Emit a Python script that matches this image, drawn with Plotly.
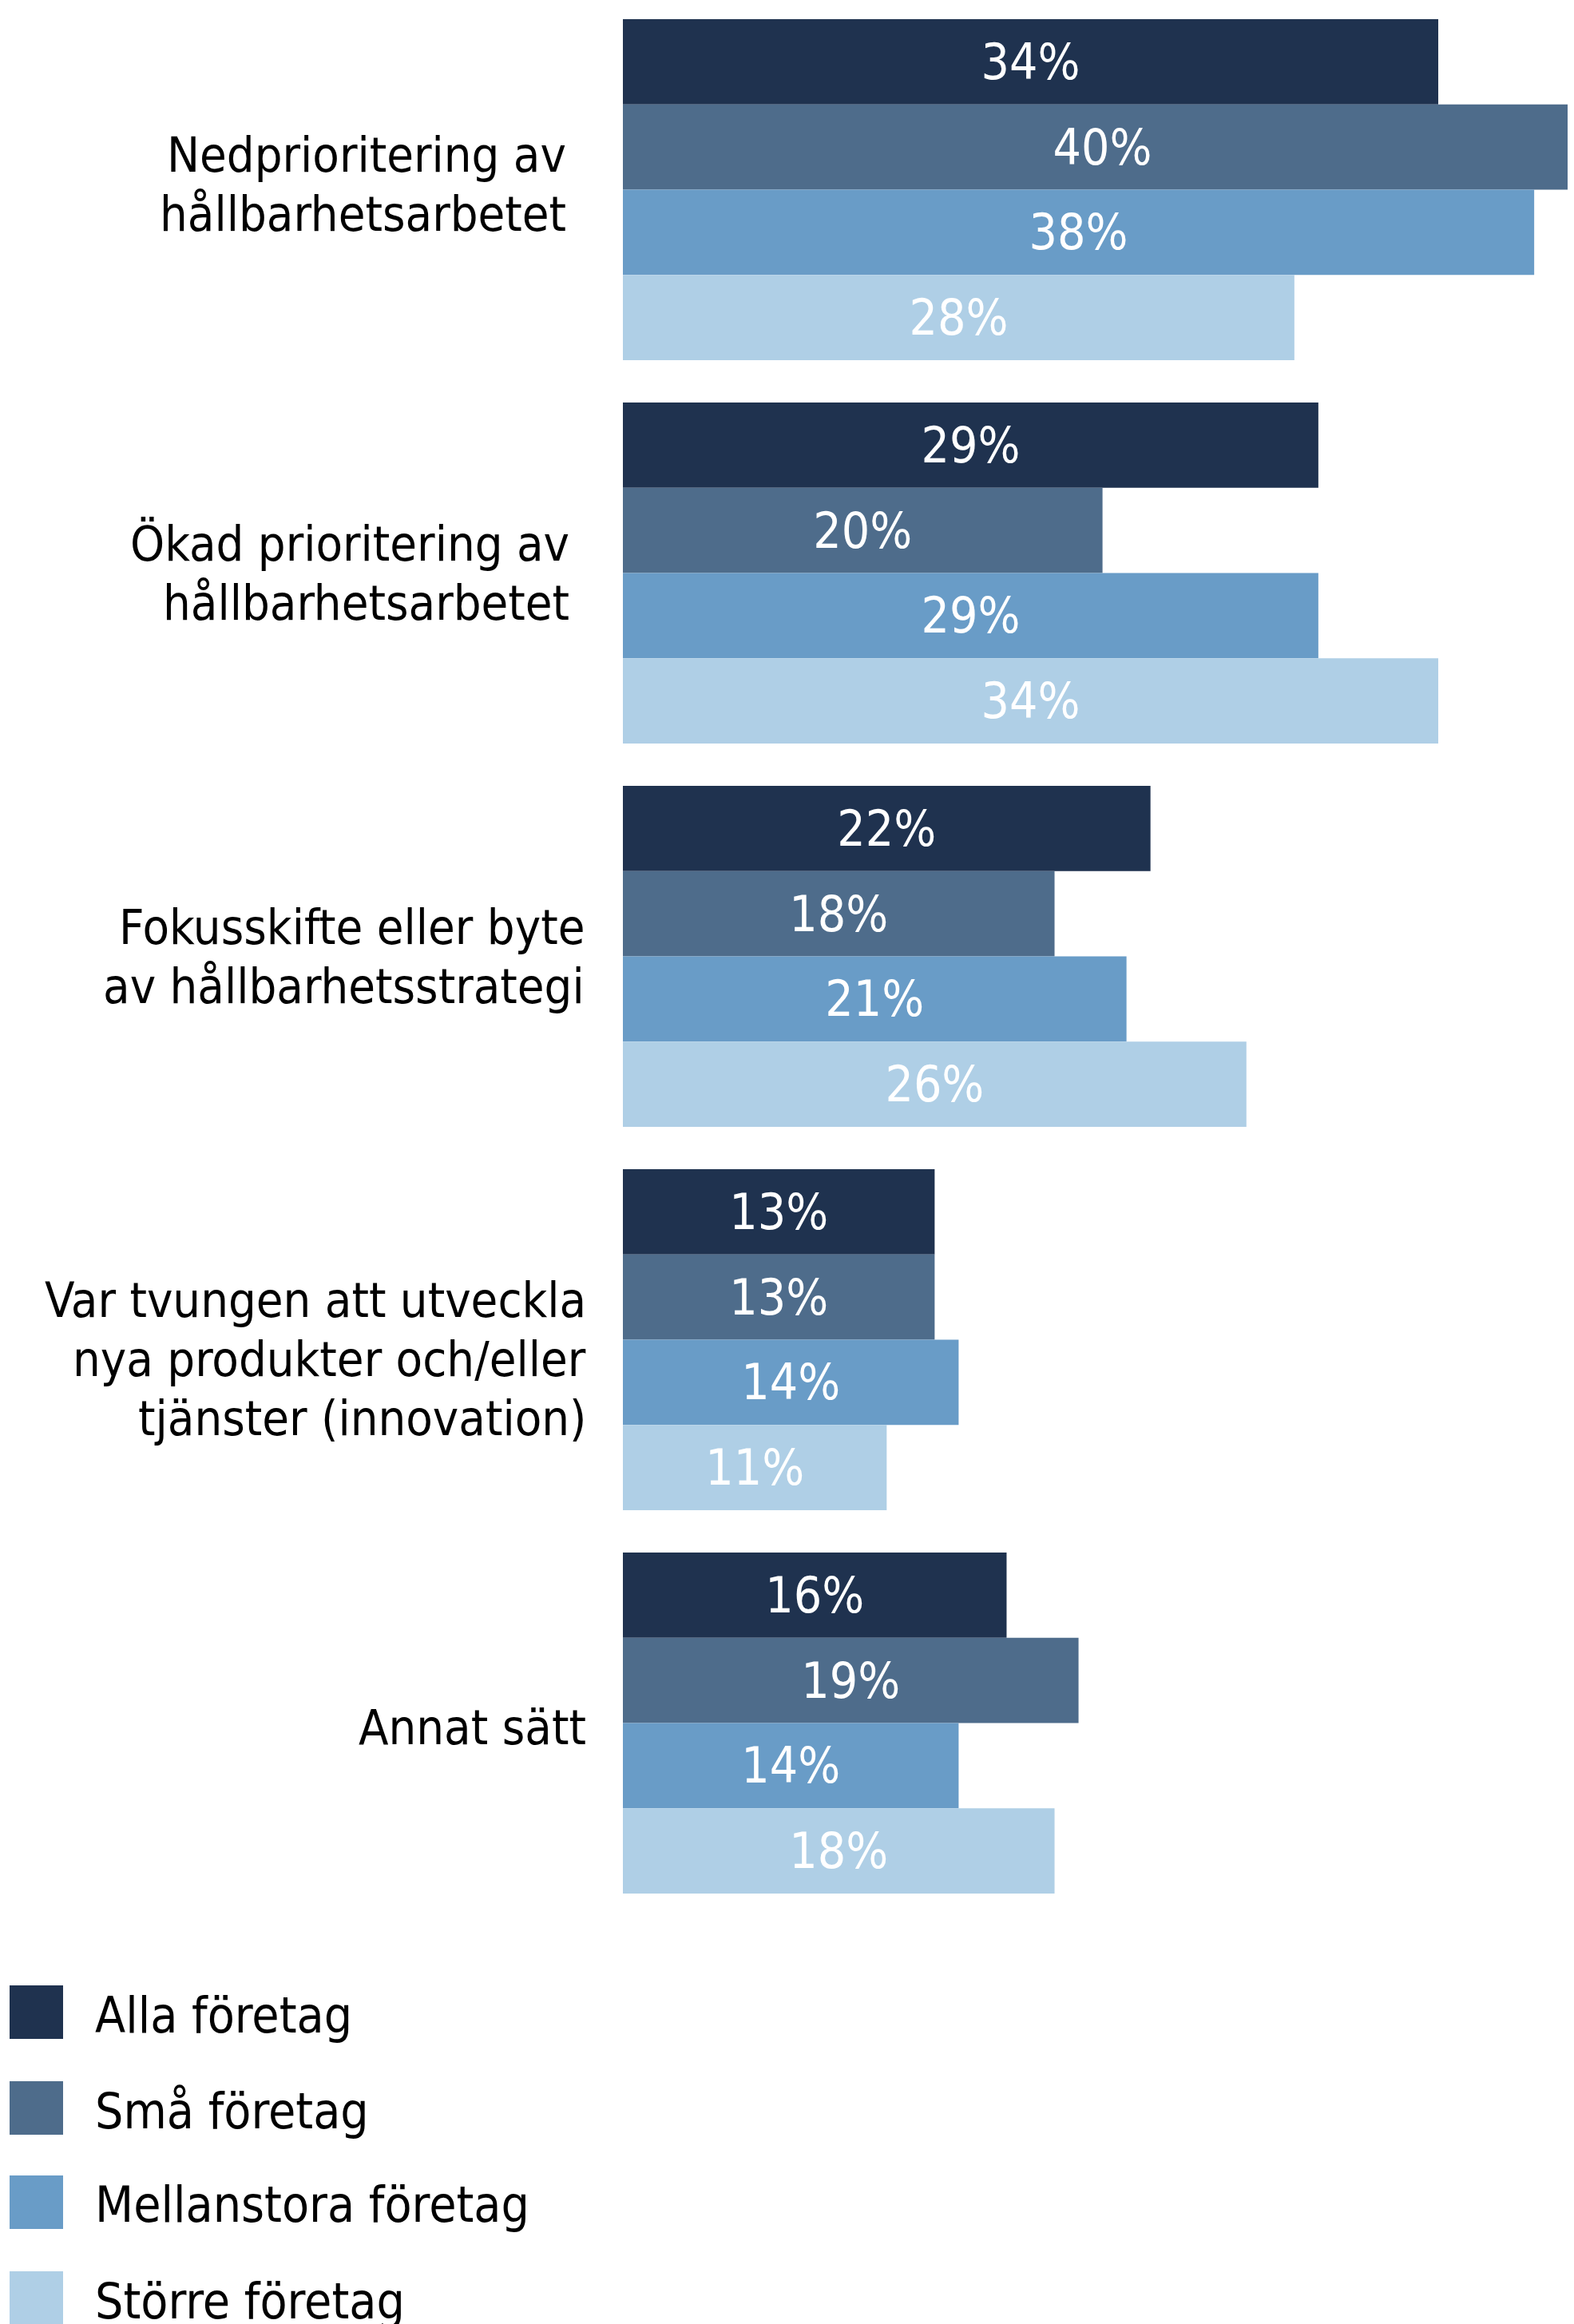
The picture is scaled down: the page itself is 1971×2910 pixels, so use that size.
import plotly.graph_objects as go

categories = [
    ["Nedprioritering av", "hållbarhetsarbetet"],
    ["Ökad prioritering av", "hållbarhetsarbetet"],
    ["Fokusskifte eller byte", "av hållbarhetsstrategi"],
    ["Var tvungen att utveckla", "nya produkter och/eller", "tjänster (innovation)"],
    ["Annat sätt"],
]
series_names = ["Alla företag", "Små företag", "Mellanstora företag", "Större företag"]
alla = [34, 29, 22, 13, 16]
sma = [40, 20, 18, 13, 19]
mellan = [38, 29, 21, 14, 14]
storre = [28, 34, 26, 11, 18]
colors = ["#1F324F", "#4E6C8B", "#699CC7", "#AFCFE6"]

OFF = 8  # default body margin of the html page
PAGE_W, PAGE_H = 1971, 2910
W, H = PAGE_W - OFF, PAGE_H - OFF
L = 780 - OFF
PLOT_H = 2400
UNIT = 480  # px per category
BARGAP = 0.1104
FONT = "'DejaVu Sans Condensed', 'Liberation Sans Narrow', Roboto, sans-serif"
FS = 62
FS_LABEL = 61
LINE = 74

top_val = -(1 - BARGAP) / 2 - (24 - OFF) / UNIT

fig = go.Figure()
for name, vals, col in zip(series_names, [alla, sma, mellan, storre], colors):
    fig.add_trace(go.Bar(
        y=list(range(len(categories))), x=vals, name=name, orientation="h",
        marker=dict(color=col, line=dict(width=0)),
        text=[f"{v}%" for v in vals], textposition="inside",
        insidetextanchor="middle", textangle=0,
        textfont=dict(color="white", size=FS, family=FONT),
        showlegend=False,
    ))

# category labels, one annotation per line
label_right = [711, 715, 734, 736, 736]
label_shift = [-7, 0, 0, 24, 5]
for i, (lines, rx, sh) in enumerate(zip(categories, label_right, label_shift)):
    n = len(lines)
    for j, line in enumerate(lines):
        dy = (j - (n - 1) / 2) * LINE + sh
        fig.add_annotation(
            x=0, xref="paper", y=i, yref="y",
            xshift=(rx - OFF) - L, yshift=-dy,
            xanchor="right", yanchor="middle", align="right",
            text=line, showarrow=False,
            font=dict(size=FS_LABEL, color="black", family=FONT),
        )

# manual legend (page pixel positions converted to paper coords)
def px_x(p):
    return (p - OFF - L) / (W - L)

def px_y(p):
    return 1 - (p - OFF) / PLOT_H

row_tops = [2486, 2606, 2724, 2844]
for name, col, top in zip(series_names, colors, row_tops):
    fig.add_shape(type="rect", xref="paper", yref="paper",
                  x0=px_x(12), x1=px_x(79), y0=px_y(top), y1=px_y(top + 67),
                  fillcolor=col, line=dict(width=0))
    fig.add_annotation(xref="paper", yref="paper", x=px_x(117), y=px_y(top + 37),
                       xanchor="left", yanchor="middle", text=name, showarrow=False,
                       font=dict(size=FS, color="black", family=FONT))

fig.update_layout(
    width=W, height=H,
    margin=dict(l=L, r=0, t=0, b=H - PLOT_H, pad=0),
    barmode="group", bargap=BARGAP, bargroupgap=0,
    plot_bgcolor="white", paper_bgcolor="white",
    xaxis=dict(range=[0, (PAGE_W - 780) / 30.03], visible=False, fixedrange=True),
    yaxis=dict(range=[top_val + PLOT_H / UNIT, top_val], visible=False, fixedrange=True),
)

fig.write_html("out.html")
